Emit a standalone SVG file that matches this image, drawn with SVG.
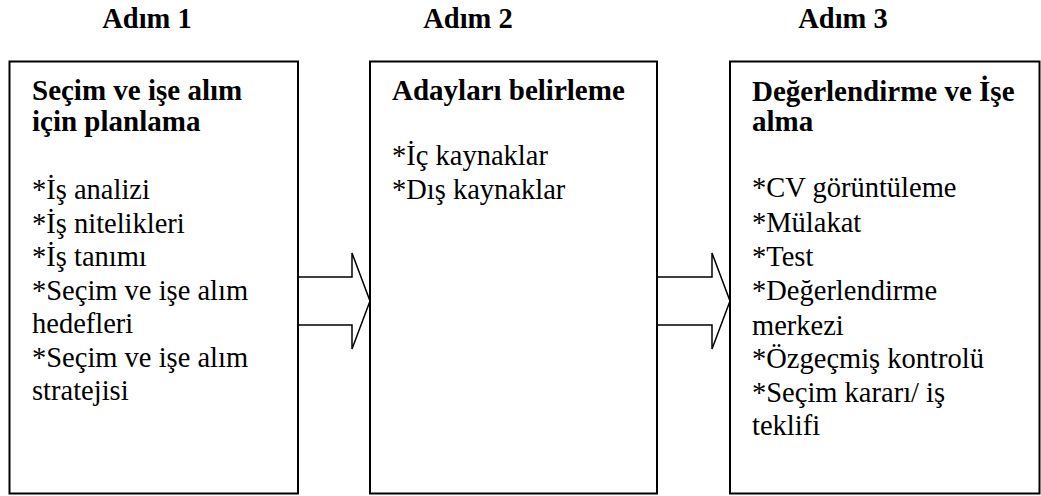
<svg xmlns="http://www.w3.org/2000/svg" width="1041" height="496" viewBox="0 0 1041 496">
  <style>
    .box { fill: #ffffff; stroke: #000000; stroke-width: 2; }
    .arrow { fill: #ffffff; stroke: #000000; stroke-width: 1.5; stroke-linejoin: miter; }
    text { font-family: 'Liberation Serif', 'Times New Roman', Times, 'DejaVu Serif', serif; fill: #000000; }
    .step { font-size: 28.5px; font-weight: bold; text-anchor: middle; }
    .title { font-size: 29px; font-weight: bold; }
    .item { font-size: 28.5px; }
  </style>
  <rect width="1041" height="496" fill="#ffffff"/>

  <!-- step headings -->
  <g id="headings">
    <text class="step" x="147" y="28">Adım 1</text>
    <text class="step" x="468" y="28">Adım 2</text>
    <text class="step" x="843" y="28">Adım 3</text>
  </g>

  <!-- block arrows between the steps -->
  <g id="connectors">
    <path class="arrow" d="M298,277 H352 V253 L370,301 L352,349 V325 H298"/>
    <path class="arrow" d="M657,277 H712 V253 L730,301 L712,349 V325 H657"/>
  </g>

  <g id="step1">
    <rect class="box" x="9.5" y="61.5" width="288.5" height="432"/>
    <text class="title" x="32" y="100">Seçim ve işe alım</text>
    <text class="title" x="32" y="131">için planlama</text>
    <text class="item" x="32" y="199">*İş analizi</text>
    <text class="item" x="32" y="232.5">*İş nitelikleri</text>
    <text class="item" x="32" y="266">*İş tanımı</text>
    <text class="item" x="32" y="299.5">*Seçim ve işe alım</text>
    <text class="item" x="32" y="333">hedefleri</text>
    <text class="item" x="32" y="366.5">*Seçim ve işe alım</text>
    <text class="item" x="32" y="400">stratejisi</text>
  </g>

  <g id="step2">
    <rect class="box" x="370" y="61.5" width="287" height="432"/>
    <text class="title" x="392" y="100">Adayları belirleme</text>
    <text class="item" x="392" y="165">*İç kaynaklar</text>
    <text class="item" x="392" y="198.5">*Dış kaynaklar</text>
  </g>

  <g id="step3">
    <rect class="box" x="730" y="61.5" width="309.5" height="432"/>
    <text class="title" x="752" y="101">Değerlendirme ve İşe</text>
    <text class="title" x="752" y="131">alma</text>
    <text class="item" x="752" y="197">*CV görüntüleme</text>
    <text class="item" x="752" y="231.5">*Mülakat</text>
    <text class="item" x="752" y="266">*Test</text>
    <text class="item" x="752" y="300">*Değerlendirme</text>
    <text class="item" x="752" y="334.5">merkezi</text>
    <text class="item" x="752" y="368">*Özgeçmiş kontrolü</text>
    <text class="item" x="752" y="401.5">*Seçim kararı/ iş</text>
    <text class="item" x="752" y="435">teklifi</text>
  </g>
</svg>
